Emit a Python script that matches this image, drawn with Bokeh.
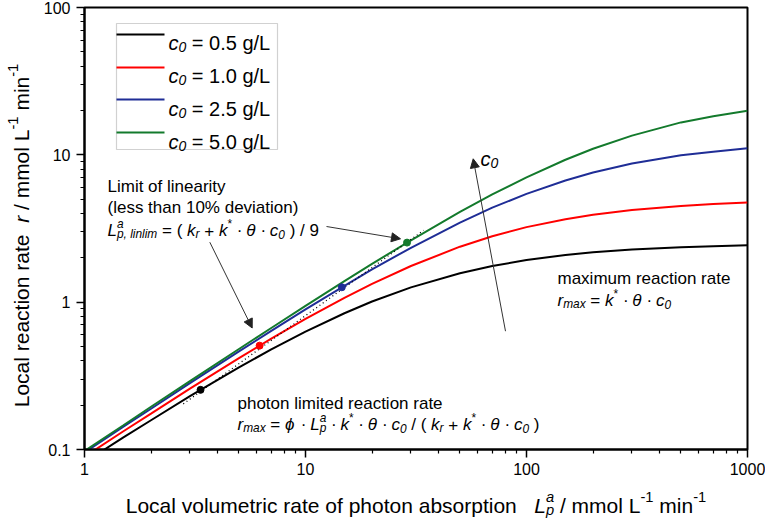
import math
import re
from bokeh.plotting import figure
from bokeh.layouts import row, column
from bokeh.models import (Range1d, Label, Arrow, NormalHead, BoxAnnotation,
                          FixedTicker, CustomJSTickFormatter, Plot)
from bokeh.embed import file_html
from bokeh.resources import INLINE

# ---------------- data ----------------
L_grid = [1, 1.5, 2, 3, 5, 7, 10, 15, 20, 30, 50, 70, 100, 150, 200, 300, 500, 700, 1000]
r_c05 = [0.0817, 0.121, 0.158, 0.230, 0.361, 0.478, 0.631, 0.841, 1.01, 1.26, 1.57, 1.76,
         1.93, 2.09, 2.18, 2.28, 2.36, 2.40, 2.43]
r_c10 = [0.0893, 0.133, 0.175, 0.259, 0.417, 0.565, 0.769, 1.07, 1.33, 1.76, 2.38, 2.80,
         3.23, 3.66, 3.92, 4.23, 4.50, 4.64, 4.74]
r_c25 = [0.0954, 0.143, 0.189, 0.282, 0.463, 0.639, 0.893, 1.29, 1.67, 2.34, 3.47, 4.38,
         5.43, 6.70, 7.58, 8.72, 9.92, 10.5, 11.1]
r_c50 = [0.0977, 0.146, 0.195, 0.291, 0.481, 0.668, 0.943, 1.39, 1.82, 2.63, 4.10, 5.39,
         7.04, 9.26, 11.0, 13.5, 16.6, 18.3, 19.9]
series_labels = ["0.5", "1.0", "2.5", "5.0"]
series_colors = ["#000000", "#ff0000", "#1f2d96", "#137a2c"]

linlim_L = [3.35, 6.2, 14.6, 28.8]
linlim_r = [0.254, 0.507, 1.262, 2.537]
dotline_L = [2.8, 34.2]
dotline_r = [0.204, 3.07]

x_ticks = [1, 10, 100, 1000]
y_ticks = [0.1, 1, 10, 100]

# ---------------- layout ----------------
TOTAL_W, TOTAL_H = 765, 522
YL_W = 38                      # width of the y-title strip
MW = TOTAL_W - YL_W            # main figure width
FL, FR, FT, FB = 46, 46 + 663, 7, 449   # frame inside main figure
MH = FB + 33                   # main figure height
XL_H = TOTAL_H - MH            # x-title strip height
FONT = "Liberation Sans"


def X(cx):
    return 10 ** (3.0 * (cx - FL) / (FR - FL))


def Y(cy):
    return 10 ** (-1 + 3.0 * (FB - cy) / (FB - FT))


def rx(px):  # reference page px -> main canvas px
    return px - YL_W


def ry(py):
    return py


p = figure(width=MW, height=MH, x_axis_type="log", y_axis_type="log",
           x_range=Range1d(1, 1000), y_range=Range1d(0.1, 100),
           output_backend="svg", toolbar_location=None,
           min_border_left=FL, min_border_right=MW - FR,
           min_border_top=FT, min_border_bottom=MH - FB)
p.xgrid.visible = False
p.ygrid.visible = False
p.outline_line_color = "black"
p.outline_line_width = 2
p.background_fill_color = "white"
p.border_fill_color = "white"

p.xaxis.ticker = FixedTicker(ticks=x_ticks,
                             minor_ticks=[m * 10 ** e for e in range(0, 3) for m in range(2, 10)])
p.yaxis.ticker = FixedTicker(ticks=y_ticks,
                             minor_ticks=[m * 10.0 ** e for e in range(-1, 2) for m in range(2, 10)])
fmt = CustomJSTickFormatter(code="return String(parseFloat(tick.toPrecision(6)));")
for ax in (p.xaxis[0], p.yaxis[0]):
    ax.formatter = fmt
    ax.axis_line_width = 2
    ax.axis_line_color = "black"
    ax.major_tick_out = 8
    ax.major_tick_in = 0
    ax.minor_tick_out = 4
    ax.minor_tick_in = 0
    ax.major_tick_line_width = 1.5
    ax.minor_tick_line_width = 1.2
    ax.major_label_text_font = FONT
    ax.major_label_text_font_size = "16px"
    ax.major_label_text_color = "black"
p.xaxis.major_label_standoff = 5
p.yaxis.major_label_standoff = 6

# ---------------- curves ----------------
all_r = [r_c05, r_c10, r_c25, r_c50]
for rv, col in zip(all_r, series_colors):
    p.line(L_grid, rv, line_color=col, line_width=2)

p.line(dotline_L, dotline_r, line_color="black", line_width=1.3, line_dash="1 3")
p.scatter(linlim_L, linlim_r, size=7, color=series_colors, line_color=series_colors)

# ---------------- rich text helper ----------------
PHI = "\u03d5"
CW = {' ': 278, '(': 333, ')': 333, '*': 389, '+': 584, ',': 278, '-': 333, '.': 278,
      '/': 278, '=': 584, '%': 889, 'a': 556, 'b': 556, 'c': 500, 'd': 556, 'e': 556,
      'f': 278, 'g': 556, 'h': 556, 'i': 222, 'j': 222, 'k': 500, 'l': 222, 'm': 833,
      'n': 556, 'o': 556, 'p': 556, 'q': 556, 'r': 333, 's': 500, 't': 278, 'u': 556,
      'v': 500, 'w': 722, 'x': 500, 'y': 500, 'z': 500, 'L': 556, '\u03b8': 556,
      PHI: 650, '\u00b7': 278}


def tw(s, size):
    return sum(CW.get(ch, 556) for ch in s) * size / 1000.0


def put(fig, fx, fy, text, cx, cy, size, italic, angle, color):
    fig.add_layout(Label(x=fx(cx), y=fy(cy), text=text, text_font=FONT,
                         text_font_size="%.1fpx" % size,
                         text_font_style="italic" if italic else "normal",
                         text_color=color, text_align="left", text_baseline="alphabetic",
                         angle=angle))


def rich(fig, fx, fy, cx, cy, parts, size, angle=0.0, color="black", center=False):
    SUB = 0.7
    total = 0.0
    for part in parts:
        if part[0] == "stack":
            total += max(tw(part[1], size * SUB), tw(part[2], size * SUB))
        else:
            total += tw(part[0], size if part[1] == "n" else size * SUB)
    adv = -total / 2.0 if center else 0.0

    def draw(text, s, a, dy, it):
        # SVG collapses leading/trailing/multiple spaces: render such chunks separately
        for m in re.finditer(r"\S+(?: \S+)*", text):
            aa = a + tw(text[:m.start()], s)
            chunk = m.group()
            if angle == 0.0:
                put(fig, fx, fy, chunk, cx + aa, cy + dy, s, it, angle, color)
            else:
                put(fig, fx, fy, chunk, cx + dy, cy - aa, s, it, angle, color)

    for part in parts:
        if part[0] == "stack":
            _, sup, sub, it = part
            s = size * SUB
            draw(sup, s, adv, -0.40 * size, it)
            draw(sub, s, adv, 0.22 * size, it)
            adv += max(tw(sup, s), tw(sub, s))
        else:
            text, kind, it = part
            s = size if kind == "n" else size * SUB
            dy = 0.0 if kind == "n" else (0.22 * size if kind == "sub" else -0.40 * size)
            draw(text, s, adv, dy, it)
            adv += tw(text, s)


def main_rich(px, py, parts, size, **kw):
    rich(p, X, Y, rx(px), ry(py), parts, size, **kw)


# ---------------- legend ----------------
p.add_layout(BoxAnnotation(left=X(rx(116)), right=X(rx(277)), top=Y(ry(23)), bottom=Y(ry(149)),
                           fill_color="white", fill_alpha=1.0, line_color="#666666", line_width=1.2))
leg_line_y = [34, 67, 99, 132]
leg_text_y = [42.5, 75.5, 108.5, 141.5]
for lab, col, ly, ty in zip(series_labels, series_colors, leg_line_y, leg_text_y):
    p.add_layout(Arrow(end=None, x_start=X(rx(116)), x_end=X(rx(164)), y_start=Y(ry(ly)), y_end=Y(ry(ly)),
                       line_color=col, line_width=2))
    main_rich(168, ty, [("c", "n", True), ("0", "sub", True), (" = " + lab + " g/L", "n", False)], 20)

# ---------------- annotations ----------------
A = 17
main_rich(107, 186, [("Limit of linearity", "n", False)], A)
main_rich(107, 207, [("(less than 10% deviation)", "n", False)], A)
main_rich(107, 230, [("L", "n", True), ("stack", "a", "p, linlim", True), (" = ( ", "n", False),
                     ("k", "n", True), ("r", "sub", True), (" + ", "n", False), ("k", "n", True),
                     ("*", "sup", False), (" \u00b7 ", "n", False), ("\u03b8", "n", True),
                     (" \u00b7 ", "n", False), ("c", "n", True), ("0", "sub", True),
                     (" ) / 9", "n", False)], A)

main_rich(557, 278, [("maximum reaction rate", "n", False)], A)
main_rich(557, 300, [("r", "n", True), ("max", "sub", True), (" = ", "n", False), ("k", "n", True),
                     ("*", "sup", False), (" \u00b7 ", "n", False), ("\u03b8", "n", True),
                     (" \u00b7 ", "n", False), ("c", "n", True), ("0", "sub", True)], A)

main_rich(237, 403, [("photon limited reaction rate", "n", False)], A)
main_rich(237, 424, [("r", "n", True), ("max", "sub", True), (" = ", "n", False), (PHI, "n", True),
                     (" \u00b7 ", "n", False), ("L", "n", True), ("stack", "a", "p", True),
                     (" \u00b7 ", "n", False), ("k", "n", True), ("*", "sup", False),
                     (" \u00b7 ", "n", False), ("\u03b8", "n", True), (" \u00b7 ", "n", False),
                     ("c", "n", True), ("0", "sub", True), (" / ( ", "n", False), ("k", "n", True),
                     ("r", "sub", True), (" + ", "n", False), ("k", "n", True), ("*", "sup", False),
                     (" \u00b7 ", "n", False), ("\u03b8", "n", True), (" \u00b7 ", "n", False),
                     ("c", "n", True), ("0", "sub", True), (" )", "n", False)], A)

main_rich(480, 158, [("c", "n", True), ("0", "sub", True)], 20)

for (x0, y0, x1, y1) in [(326, 226, 400, 238.3), (209.3, 241.7, 251.7, 327.5), (505, 330.7, 472.7, 158.3)]:
    p.add_layout(Arrow(end=NormalHead(size=9, fill_color="#222222", line_color="#222222"),
                       x_start=X(rx(x0)), y_start=Y(ry(y0)), x_end=X(rx(x1)), y_end=Y(ry(y1)),
                       line_color="#333333", line_width=1))


# ---------------- axis-title strips (plain plots without axes) ----------------
def strip(w, h):
    f = Plot(width=w, height=h, frame_width=w, frame_height=h,
             x_range=Range1d(0, w), y_range=Range1d(0, h),
             output_backend="svg", toolbar_location=None, title=None,
             min_border=0, min_border_left=0, min_border_right=0,
             min_border_top=0, min_border_bottom=0,
             outline_line_color=None, background_fill_color="white",
             border_fill_color="white")
    return f


ylab = strip(YL_W, MH)
rich(ylab, lambda c: c, lambda c: MH - c, 21, (FT + FB) / 2.0,
     [("Local reaction rate  ", "n", False), ("r", "n", True),
      (" / mmol L", "n", False), ("-1", "sup", False), (" min", "n", False),
      ("-1", "sup", False)], 21, angle=math.pi / 2, center=True)

xlab = strip(TOTAL_W, XL_H)
rich(xlab, lambda c: c, lambda c: XL_H - c, YL_W + (FL + FR) / 2.0, 511.5 - MH - 7,
     [("Local volumetric rate of photon absorption   ", "n", False),
      ("L", "n", True), ("stack", "a", "p", True),
      (" / mmol L", "n", False), ("-1", "sup", False), (" min", "n", False),
      ("-1", "sup", False)], 21, center=True)

layout = column(row(ylab, p), xlab)
open("out.html", "w").write(file_html(layout, INLINE))
